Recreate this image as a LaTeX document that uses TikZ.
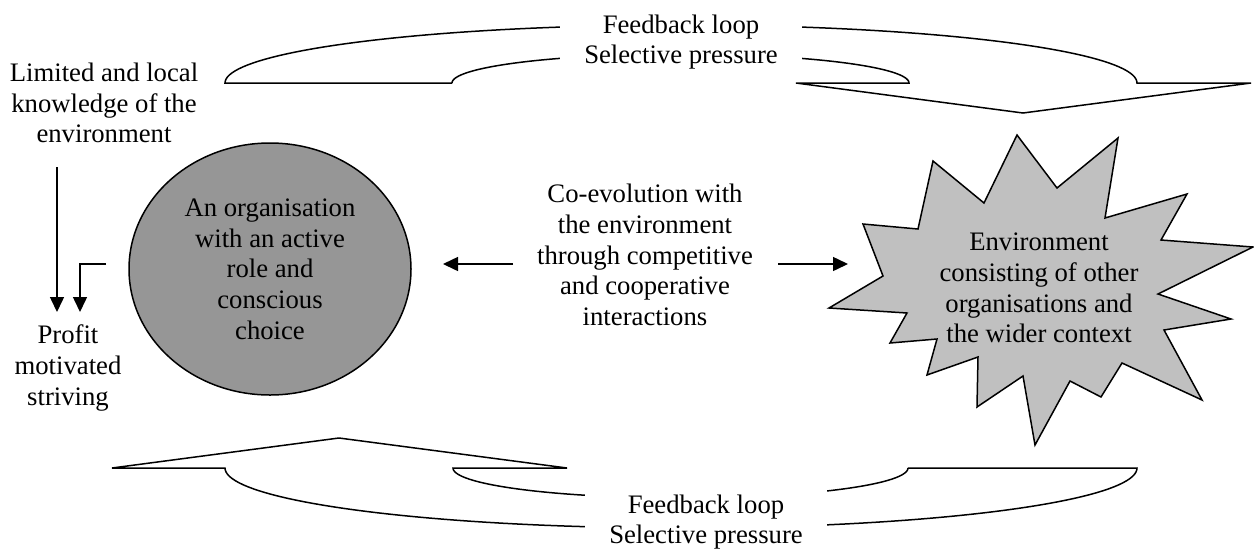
\documentclass[tikz,border=0pt]{standalone}
\usepackage{fontspec}
\setmainfont{Liberation Serif}
\usetikzlibrary{shapes.geometric,arrows.meta}
\definecolor{orggray}{RGB}{150,150,150}
\definecolor{envgray}{RGB}{192,192,192}
\begin{document}
\begin{tikzpicture}[x=1pt,y=-1pt,line width=1.5pt,
  txt/.style={align=center,font=\fontsize{26.7}{30.7}\selectfont,inner sep=0pt},
  arr/.style={-{Triangle[length=15pt,width=14pt]}},
  mask/.style={fill=white,minimum width=242pt,minimum height=72pt}]
\useasboundingbox (0,0) rectangle (1254,550);
% top feedback arrow
\draw (452,83) -- (225,83)
  -- plot[domain=180:0,samples=90] ({681+456*cos(\x)},{83-58*sin(\x)})
  -- (1251,83) -- (1023,113) -- (796,83) -- (909,83)
  -- plot[domain=0:180,samples=90] ({680.5+228.5*cos(\x)},{83-29*sin(\x)});
% bottom feedback arrow
\draw (908,468) -- (1137,468)
  -- plot[domain=0:180,samples=90] ({681+456*cos(\x)},{468+60*sin(\x)})
  -- (112,468) -- (339,438) -- (567,468) -- (453,468)
  -- plot[domain=180:0,samples=90] ({680.5+227.5*cos(\x)},{468+30*sin(\x)});
% text boxes over the loops
\node[txt,mask] (fbtop) at (681,42) {Feedback loop\\Selective pressure};
\node[txt,mask] (fbbot) at (706,522) {Feedback loop\\Selective pressure};
% organisation
\node[ellipse,draw,fill=orggray,minimum width=282pt,minimum height=252pt,txt] (org) at (270,269)
  {An organisation\\with an active\\role and\\conscious\\choice};
% environment starburst
\draw[fill=envgray] (863,224) -- (918,229) -- (933,161) -- (984,203) -- (1017,135)
  -- (1057,188) -- (1118,138) -- (1105,218) -- (1187,194) -- (1161,240)
  -- (1253,247) -- (1158,294) -- (1231,319) -- (1164,330) -- (1202,400)
  -- (1122,363) -- (1101,397) -- (1070,381) -- (1035,445) -- (1023,376)
  -- (977,407) -- (978,357) -- (927,375) -- (937,339) -- (890,343)
  -- (907,313) -- (829,308) -- (883,276) -- cycle;
\node[txt] (env) at (1039,288) {Environment\\consisting of other\\organisations and\\the wider context};
% middle text
\node[txt] (coev) at (645,255) {Co-evolution with\\the environment\\through competitive\\and cooperative\\interactions};
\coordinate (lt) at (513,264);
\coordinate (lh) at (443,264);
\coordinate (rt) at (778,264);
\coordinate (rh) at (848,264);
\draw[arr] (lt) -- (lh);
\draw[arr] (rt) -- (rh);
% left texts
\node[txt] (know) at (104,103) {Limited and local\\knowledge of the\\environment};
\node[txt] (profit) at (68,368) {Profit\\motivated\\striving};
\coordinate (k1) at (57,167);
\coordinate (p1) at (57,312);
\coordinate (h0) at (106,264);
\coordinate (p2) at (80,312);
\draw[arr] (k1) -- (p1);
\draw[arr] (h0) -| (p2);
\end{tikzpicture}
\end{document}
